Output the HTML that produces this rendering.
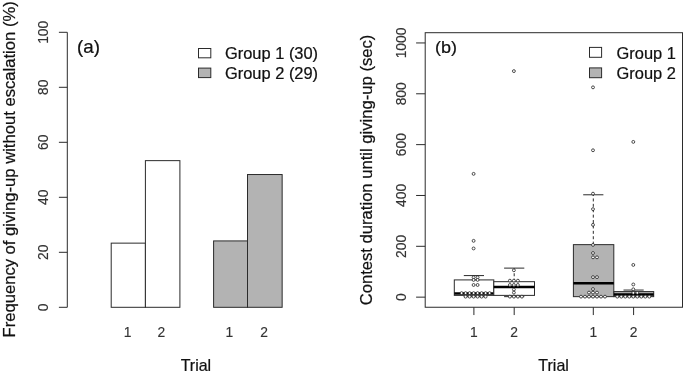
<!DOCTYPE html>
<html lang="en"><head><meta charset="utf-8"><title>Figure</title>
<style>
html,body{margin:0;padding:0;background:#fff;}
svg{display:block;font-family:"Liberation Sans",Arial,sans-serif;}
</style></head><body>
<svg width="685" height="373" viewBox="0 0 685 373">
<rect x="0" y="0" width="685" height="373" fill="#fff"/>
<line x1="67.30" y1="32.30" x2="67.30" y2="307.30" stroke="#2b2b2b" stroke-width="1" />
<line x1="58.90" y1="307.30" x2="67.30" y2="307.30" stroke="#2b2b2b" stroke-width="1" />
<text transform="translate(48.00 307.30) rotate(-90) scale(0.925 1)" font-size="15.0" text-anchor="middle" fill="#333" stroke="#333" stroke-width="0.15">0</text>
<line x1="58.90" y1="252.30" x2="67.30" y2="252.30" stroke="#2b2b2b" stroke-width="1" />
<text transform="translate(48.00 252.30) rotate(-90) scale(0.925 1)" font-size="15.0" text-anchor="middle" fill="#333" stroke="#333" stroke-width="0.15">20</text>
<line x1="58.90" y1="197.30" x2="67.30" y2="197.30" stroke="#2b2b2b" stroke-width="1" />
<text transform="translate(48.00 197.30) rotate(-90) scale(0.925 1)" font-size="15.0" text-anchor="middle" fill="#333" stroke="#333" stroke-width="0.15">40</text>
<line x1="58.90" y1="142.30" x2="67.30" y2="142.30" stroke="#2b2b2b" stroke-width="1" />
<text transform="translate(48.00 142.30) rotate(-90) scale(0.925 1)" font-size="15.0" text-anchor="middle" fill="#333" stroke="#333" stroke-width="0.15">60</text>
<line x1="58.90" y1="87.30" x2="67.30" y2="87.30" stroke="#2b2b2b" stroke-width="1" />
<text transform="translate(48.00 87.30) rotate(-90) scale(0.925 1)" font-size="15.0" text-anchor="middle" fill="#333" stroke="#333" stroke-width="0.15">80</text>
<line x1="58.90" y1="32.30" x2="67.30" y2="32.30" stroke="#2b2b2b" stroke-width="1" />
<text transform="translate(48.00 32.30) rotate(-90) scale(0.925 1)" font-size="15.0" text-anchor="middle" fill="#333" stroke="#333" stroke-width="0.15">100</text>
<text transform="translate(14.70 169.40) rotate(-90) scale(1.06 1)" font-size="15.7" text-anchor="middle" fill="#111" stroke="#111" stroke-width="0.22">Frequency of giving-up without escalation (%)</text>
<rect x="111.20" y="243.14" width="34.20" height="64.16" fill="#fff" stroke="#2b2b2b" stroke-width="1"/>
<rect x="145.40" y="160.64" width="34.50" height="146.66" fill="#fff" stroke="#2b2b2b" stroke-width="1"/>
<rect x="213.60" y="240.92" width="33.90" height="66.39" fill="#b3b3b3" stroke="#2b2b2b" stroke-width="1"/>
<rect x="247.50" y="174.53" width="34.65" height="132.77" fill="#b3b3b3" stroke="#2b2b2b" stroke-width="1"/>
<text transform="translate(127.60 336.80) scale(0.95 1)" font-size="14.6" text-anchor="middle" fill="#333" stroke="#333" stroke-width="0.15">1</text>
<text transform="translate(161.40 336.80) scale(0.95 1)" font-size="14.6" text-anchor="middle" fill="#333" stroke="#333" stroke-width="0.15">2</text>
<text transform="translate(229.40 336.80) scale(0.95 1)" font-size="14.6" text-anchor="middle" fill="#333" stroke="#333" stroke-width="0.15">1</text>
<text transform="translate(264.20 336.80) scale(0.95 1)" font-size="14.6" text-anchor="middle" fill="#333" stroke="#333" stroke-width="0.15">2</text>
<text transform="translate(195.90 370.70) scale(1.02 1)" font-size="15.7" text-anchor="middle" fill="#111" stroke="#111" stroke-width="0.22">Trial</text>
<text transform="translate(77.00 52.60) scale(1.075 1)" font-size="17.5" text-anchor="start" fill="#111" stroke="#111" stroke-width="0.22">(a)</text>
<rect x="198.50" y="48.50" width="12.30" height="9.30" fill="#fff" stroke="#2b2b2b" stroke-width="1"/>
<rect x="198.50" y="68.10" width="12.30" height="9.50" fill="#b3b3b3" stroke="#2b2b2b" stroke-width="1"/>
<text transform="translate(225.00 59.20) scale(1.027 1)" font-size="16.0" text-anchor="start" fill="#111" stroke="#111" stroke-width="0.22">Group 1 (30)</text>
<text transform="translate(225.00 78.90) scale(1.027 1)" font-size="16.0" text-anchor="start" fill="#111" stroke="#111" stroke-width="0.22">Group 2 (29)</text>
<rect x="425.2" y="32.7" width="257.30" height="274.55" fill="none" stroke="#2b2b2b" stroke-width="1"/>
<line x1="416.10" y1="297.15" x2="425.20" y2="297.15" stroke="#2b2b2b" stroke-width="1" />
<text transform="translate(406.00 297.15) rotate(-90) scale(0.925 1)" font-size="15.0" text-anchor="middle" fill="#333" stroke="#333" stroke-width="0.15">0</text>
<line x1="416.10" y1="246.31" x2="425.20" y2="246.31" stroke="#2b2b2b" stroke-width="1" />
<text transform="translate(406.00 246.31) rotate(-90) scale(0.925 1)" font-size="15.0" text-anchor="middle" fill="#333" stroke="#333" stroke-width="0.15">200</text>
<line x1="416.10" y1="195.47" x2="425.20" y2="195.47" stroke="#2b2b2b" stroke-width="1" />
<text transform="translate(406.00 195.47) rotate(-90) scale(0.925 1)" font-size="15.0" text-anchor="middle" fill="#333" stroke="#333" stroke-width="0.15">400</text>
<line x1="416.10" y1="144.63" x2="425.20" y2="144.63" stroke="#2b2b2b" stroke-width="1" />
<text transform="translate(406.00 144.63) rotate(-90) scale(0.925 1)" font-size="15.0" text-anchor="middle" fill="#333" stroke="#333" stroke-width="0.15">600</text>
<line x1="416.10" y1="93.79" x2="425.20" y2="93.79" stroke="#2b2b2b" stroke-width="1" />
<text transform="translate(406.00 93.79) rotate(-90) scale(0.925 1)" font-size="15.0" text-anchor="middle" fill="#333" stroke="#333" stroke-width="0.15">800</text>
<line x1="416.10" y1="42.95" x2="425.20" y2="42.95" stroke="#2b2b2b" stroke-width="1" />
<text transform="translate(406.00 42.95) rotate(-90) scale(0.925 1)" font-size="15.0" text-anchor="middle" fill="#333" stroke="#333" stroke-width="0.15">1000</text>
<text transform="translate(372.20 170.00) rotate(-90) scale(1.06 1)" font-size="15.7" text-anchor="middle" fill="#111" stroke="#111" stroke-width="0.22">Contest duration until giving-up (sec)</text>
<line x1="473.90" y1="307.25" x2="473.90" y2="315.05" stroke="#2b2b2b" stroke-width="1" />
<text transform="translate(473.90 336.80) scale(0.95 1)" font-size="14.6" text-anchor="middle" fill="#333" stroke="#333" stroke-width="0.15">1</text>
<line x1="514.20" y1="307.25" x2="514.20" y2="315.05" stroke="#2b2b2b" stroke-width="1" />
<text transform="translate(514.20 336.80) scale(0.95 1)" font-size="14.6" text-anchor="middle" fill="#333" stroke="#333" stroke-width="0.15">2</text>
<line x1="593.30" y1="307.25" x2="593.30" y2="315.05" stroke="#2b2b2b" stroke-width="1" />
<text transform="translate(593.30 336.80) scale(0.95 1)" font-size="14.6" text-anchor="middle" fill="#333" stroke="#333" stroke-width="0.15">1</text>
<line x1="633.60" y1="307.25" x2="633.60" y2="315.05" stroke="#2b2b2b" stroke-width="1" />
<text transform="translate(633.60 336.80) scale(0.95 1)" font-size="14.6" text-anchor="middle" fill="#333" stroke="#333" stroke-width="0.15">2</text>
<text transform="translate(553.60 370.70) scale(1.02 1)" font-size="15.7" text-anchor="middle" fill="#111" stroke="#111" stroke-width="0.22">Trial</text>
<text transform="translate(434.90 53.30) scale(1.035 1)" font-size="17.4" text-anchor="start" fill="#111" stroke="#111" stroke-width="0.22">(b)</text>
<rect x="589.50" y="47.40" width="12.10" height="9.90" fill="#fff" stroke="#2b2b2b" stroke-width="1"/>
<rect x="589.50" y="67.90" width="12.10" height="9.80" fill="#b3b3b3" stroke="#2b2b2b" stroke-width="1"/>
<text transform="translate(616.60 58.90) scale(1.027 1)" font-size="16.0" text-anchor="start" fill="#111" stroke="#111" stroke-width="0.22">Group 1</text>
<text transform="translate(616.60 78.80) scale(1.027 1)" font-size="16.0" text-anchor="start" fill="#111" stroke="#111" stroke-width="0.22">Group 2</text>
<line x1="473.90" y1="279.91" x2="473.90" y2="275.59" stroke="#2b2b2b" stroke-width="1" stroke-dasharray="3 2.4"/>
<line x1="473.90" y1="295.38" x2="473.90" y2="296.65" stroke="#2b2b2b" stroke-width="1" stroke-dasharray="3 2.4"/>
<line x1="463.80" y1="275.59" x2="484.00" y2="275.59" stroke="#2b2b2b" stroke-width="1" />
<line x1="463.80" y1="296.65" x2="484.00" y2="296.65" stroke="#2b2b2b" stroke-width="1" />
<rect x="454.30" y="279.91" width="39.50" height="15.48" fill="#fff" stroke="#2b2b2b" stroke-width="1"/>
<line x1="454.30" y1="293.61" x2="493.80" y2="293.61" stroke="#000" stroke-width="2.5" />
<line x1="514.20" y1="281.68" x2="514.20" y2="268.11" stroke="#2b2b2b" stroke-width="1" stroke-dasharray="3 2.4"/>
<line x1="514.20" y1="295.38" x2="514.20" y2="296.65" stroke="#2b2b2b" stroke-width="1" stroke-dasharray="3 2.4"/>
<line x1="504.10" y1="268.11" x2="524.30" y2="268.11" stroke="#2b2b2b" stroke-width="1" />
<line x1="504.10" y1="296.65" x2="524.30" y2="296.65" stroke="#2b2b2b" stroke-width="1" />
<rect x="493.80" y="281.68" width="40.70" height="13.70" fill="#fff" stroke="#2b2b2b" stroke-width="1"/>
<line x1="493.80" y1="287.01" x2="534.50" y2="287.01" stroke="#000" stroke-width="2.5" />
<line x1="593.30" y1="244.64" x2="593.30" y2="194.79" stroke="#2b2b2b" stroke-width="1" stroke-dasharray="3 2.4"/>
<line x1="593.30" y1="296.65" x2="593.30" y2="296.65" stroke="#2b2b2b" stroke-width="1" stroke-dasharray="3 2.4"/>
<line x1="583.20" y1="194.79" x2="603.40" y2="194.79" stroke="#2b2b2b" stroke-width="1" />
<line x1="583.20" y1="296.65" x2="603.40" y2="296.65" stroke="#2b2b2b" stroke-width="1" />
<rect x="573.40" y="244.64" width="40.40" height="52.01" fill="#b3b3b3" stroke="#2b2b2b" stroke-width="1"/>
<line x1="573.40" y1="283.20" x2="613.80" y2="283.20" stroke="#000" stroke-width="2.5" />
<line x1="633.60" y1="291.58" x2="633.60" y2="290.05" stroke="#2b2b2b" stroke-width="1" stroke-dasharray="3 2.4"/>
<line x1="633.60" y1="296.65" x2="633.60" y2="296.65" stroke="#2b2b2b" stroke-width="1" stroke-dasharray="3 2.4"/>
<line x1="623.50" y1="290.05" x2="643.70" y2="290.05" stroke="#2b2b2b" stroke-width="1" />
<line x1="623.50" y1="296.65" x2="643.70" y2="296.65" stroke="#2b2b2b" stroke-width="1" />
<rect x="613.90" y="291.58" width="39.80" height="5.07" fill="#b3b3b3" stroke="#2b2b2b" stroke-width="1"/>
<line x1="613.90" y1="294.62" x2="653.70" y2="294.62" stroke="#000" stroke-width="2.5" />
<circle cx="473.60" cy="173.86" r="1.45" fill="#fff" stroke="#222" stroke-width="0.8"/>
<circle cx="473.60" cy="240.84" r="1.45" fill="#fff" stroke="#222" stroke-width="0.8"/>
<circle cx="473.60" cy="248.45" r="1.45" fill="#fff" stroke="#222" stroke-width="0.8"/>
<circle cx="473.60" cy="277.37" r="1.45" fill="#fff" stroke="#222" stroke-width="0.8"/>
<circle cx="477.60" cy="277.37" r="1.45" fill="#fff" stroke="#222" stroke-width="0.8"/>
<circle cx="473.60" cy="279.91" r="1.45" fill="#fff" stroke="#222" stroke-width="0.8"/>
<circle cx="477.60" cy="279.91" r="1.45" fill="#fff" stroke="#222" stroke-width="0.8"/>
<circle cx="473.60" cy="284.98" r="1.45" fill="#fff" stroke="#222" stroke-width="0.8"/>
<circle cx="477.60" cy="284.98" r="1.45" fill="#fff" stroke="#222" stroke-width="0.8"/>
<circle cx="461.60" cy="293.10" r="1.45" fill="#fff" stroke="#222" stroke-width="0.8"/>
<circle cx="465.60" cy="293.10" r="1.45" fill="#fff" stroke="#222" stroke-width="0.8"/>
<circle cx="469.60" cy="293.10" r="1.45" fill="#fff" stroke="#222" stroke-width="0.8"/>
<circle cx="473.60" cy="293.10" r="1.45" fill="#fff" stroke="#222" stroke-width="0.8"/>
<circle cx="477.60" cy="293.10" r="1.45" fill="#fff" stroke="#222" stroke-width="0.8"/>
<circle cx="481.60" cy="293.10" r="1.45" fill="#fff" stroke="#222" stroke-width="0.8"/>
<circle cx="485.60" cy="293.10" r="1.45" fill="#fff" stroke="#222" stroke-width="0.8"/>
<circle cx="489.60" cy="293.10" r="1.45" fill="#fff" stroke="#222" stroke-width="0.8"/>
<circle cx="465.60" cy="296.65" r="1.45" fill="#fff" stroke="#222" stroke-width="0.8"/>
<circle cx="469.60" cy="296.65" r="1.45" fill="#fff" stroke="#222" stroke-width="0.8"/>
<circle cx="473.60" cy="296.65" r="1.45" fill="#fff" stroke="#222" stroke-width="0.8"/>
<circle cx="477.60" cy="296.65" r="1.45" fill="#fff" stroke="#222" stroke-width="0.8"/>
<circle cx="481.60" cy="296.65" r="1.45" fill="#fff" stroke="#222" stroke-width="0.8"/>
<circle cx="485.60" cy="296.65" r="1.45" fill="#fff" stroke="#222" stroke-width="0.8"/>
<circle cx="513.90" cy="71.11" r="1.45" fill="#fff" stroke="#222" stroke-width="0.8"/>
<circle cx="513.90" cy="270.27" r="1.45" fill="#fff" stroke="#222" stroke-width="0.8"/>
<circle cx="509.90" cy="280.67" r="1.45" fill="#fff" stroke="#222" stroke-width="0.8"/>
<circle cx="513.90" cy="280.67" r="1.45" fill="#fff" stroke="#222" stroke-width="0.8"/>
<circle cx="517.90" cy="280.67" r="1.45" fill="#fff" stroke="#222" stroke-width="0.8"/>
<circle cx="509.90" cy="284.98" r="1.45" fill="#fff" stroke="#222" stroke-width="0.8"/>
<circle cx="513.90" cy="284.98" r="1.45" fill="#fff" stroke="#222" stroke-width="0.8"/>
<circle cx="517.90" cy="284.98" r="1.45" fill="#fff" stroke="#222" stroke-width="0.8"/>
<circle cx="513.90" cy="289.55" r="1.45" fill="#fff" stroke="#222" stroke-width="0.8"/>
<circle cx="513.90" cy="292.59" r="1.45" fill="#fff" stroke="#222" stroke-width="0.8"/>
<circle cx="509.90" cy="296.65" r="1.45" fill="#fff" stroke="#222" stroke-width="0.8"/>
<circle cx="513.90" cy="296.65" r="1.45" fill="#fff" stroke="#222" stroke-width="0.8"/>
<circle cx="517.90" cy="296.65" r="1.45" fill="#fff" stroke="#222" stroke-width="0.8"/>
<circle cx="521.90" cy="296.65" r="1.45" fill="#fff" stroke="#222" stroke-width="0.8"/>
<circle cx="593.00" cy="87.35" r="1.45" fill="#fff" stroke="#222" stroke-width="0.8"/>
<circle cx="593.00" cy="150.27" r="1.45" fill="#fff" stroke="#222" stroke-width="0.8"/>
<circle cx="593.00" cy="193.65" r="1.45" fill="#fff" stroke="#222" stroke-width="0.8"/>
<circle cx="593.00" cy="209.12" r="1.45" fill="#fff" stroke="#222" stroke-width="0.8"/>
<circle cx="593.00" cy="224.85" r="1.45" fill="#fff" stroke="#222" stroke-width="0.8"/>
<circle cx="593.00" cy="244.90" r="1.45" fill="#fff" stroke="#222" stroke-width="0.8"/>
<circle cx="593.00" cy="253.01" r="1.45" fill="#fff" stroke="#222" stroke-width="0.8"/>
<circle cx="593.00" cy="257.33" r="1.45" fill="#fff" stroke="#222" stroke-width="0.8"/>
<circle cx="597.00" cy="257.33" r="1.45" fill="#fff" stroke="#222" stroke-width="0.8"/>
<circle cx="593.00" cy="277.12" r="1.45" fill="#fff" stroke="#222" stroke-width="0.8"/>
<circle cx="597.00" cy="277.12" r="1.45" fill="#fff" stroke="#222" stroke-width="0.8"/>
<circle cx="593.00" cy="289.04" r="1.45" fill="#fff" stroke="#222" stroke-width="0.8"/>
<circle cx="589.00" cy="292.59" r="1.45" fill="#fff" stroke="#222" stroke-width="0.8"/>
<circle cx="593.00" cy="292.59" r="1.45" fill="#fff" stroke="#222" stroke-width="0.8"/>
<circle cx="597.00" cy="292.59" r="1.45" fill="#fff" stroke="#222" stroke-width="0.8"/>
<circle cx="581.00" cy="296.65" r="1.45" fill="#fff" stroke="#222" stroke-width="0.8"/>
<circle cx="585.00" cy="296.65" r="1.45" fill="#fff" stroke="#222" stroke-width="0.8"/>
<circle cx="589.00" cy="296.65" r="1.45" fill="#fff" stroke="#222" stroke-width="0.8"/>
<circle cx="593.00" cy="296.65" r="1.45" fill="#fff" stroke="#222" stroke-width="0.8"/>
<circle cx="597.00" cy="296.65" r="1.45" fill="#fff" stroke="#222" stroke-width="0.8"/>
<circle cx="601.00" cy="296.65" r="1.45" fill="#fff" stroke="#222" stroke-width="0.8"/>
<circle cx="605.00" cy="296.65" r="1.45" fill="#fff" stroke="#222" stroke-width="0.8"/>
<circle cx="633.30" cy="141.89" r="1.45" fill="#fff" stroke="#222" stroke-width="0.8"/>
<circle cx="633.30" cy="264.94" r="1.45" fill="#fff" stroke="#222" stroke-width="0.8"/>
<circle cx="633.30" cy="284.47" r="1.45" fill="#fff" stroke="#222" stroke-width="0.8"/>
<circle cx="633.30" cy="289.29" r="1.45" fill="#fff" stroke="#222" stroke-width="0.8"/>
<circle cx="633.30" cy="292.84" r="1.45" fill="#fff" stroke="#222" stroke-width="0.8"/>
<circle cx="637.30" cy="292.84" r="1.45" fill="#fff" stroke="#222" stroke-width="0.8"/>
<circle cx="617.30" cy="296.65" r="1.45" fill="#fff" stroke="#222" stroke-width="0.8"/>
<circle cx="621.30" cy="296.65" r="1.45" fill="#fff" stroke="#222" stroke-width="0.8"/>
<circle cx="625.30" cy="296.65" r="1.45" fill="#fff" stroke="#222" stroke-width="0.8"/>
<circle cx="629.30" cy="296.65" r="1.45" fill="#fff" stroke="#222" stroke-width="0.8"/>
<circle cx="633.30" cy="296.65" r="1.45" fill="#fff" stroke="#222" stroke-width="0.8"/>
<circle cx="637.30" cy="296.65" r="1.45" fill="#fff" stroke="#222" stroke-width="0.8"/>
<circle cx="641.30" cy="296.65" r="1.45" fill="#fff" stroke="#222" stroke-width="0.8"/>
<circle cx="645.30" cy="296.65" r="1.45" fill="#fff" stroke="#222" stroke-width="0.8"/>
<circle cx="649.30" cy="296.65" r="1.45" fill="#fff" stroke="#222" stroke-width="0.8"/>
</svg>
</body></html>
